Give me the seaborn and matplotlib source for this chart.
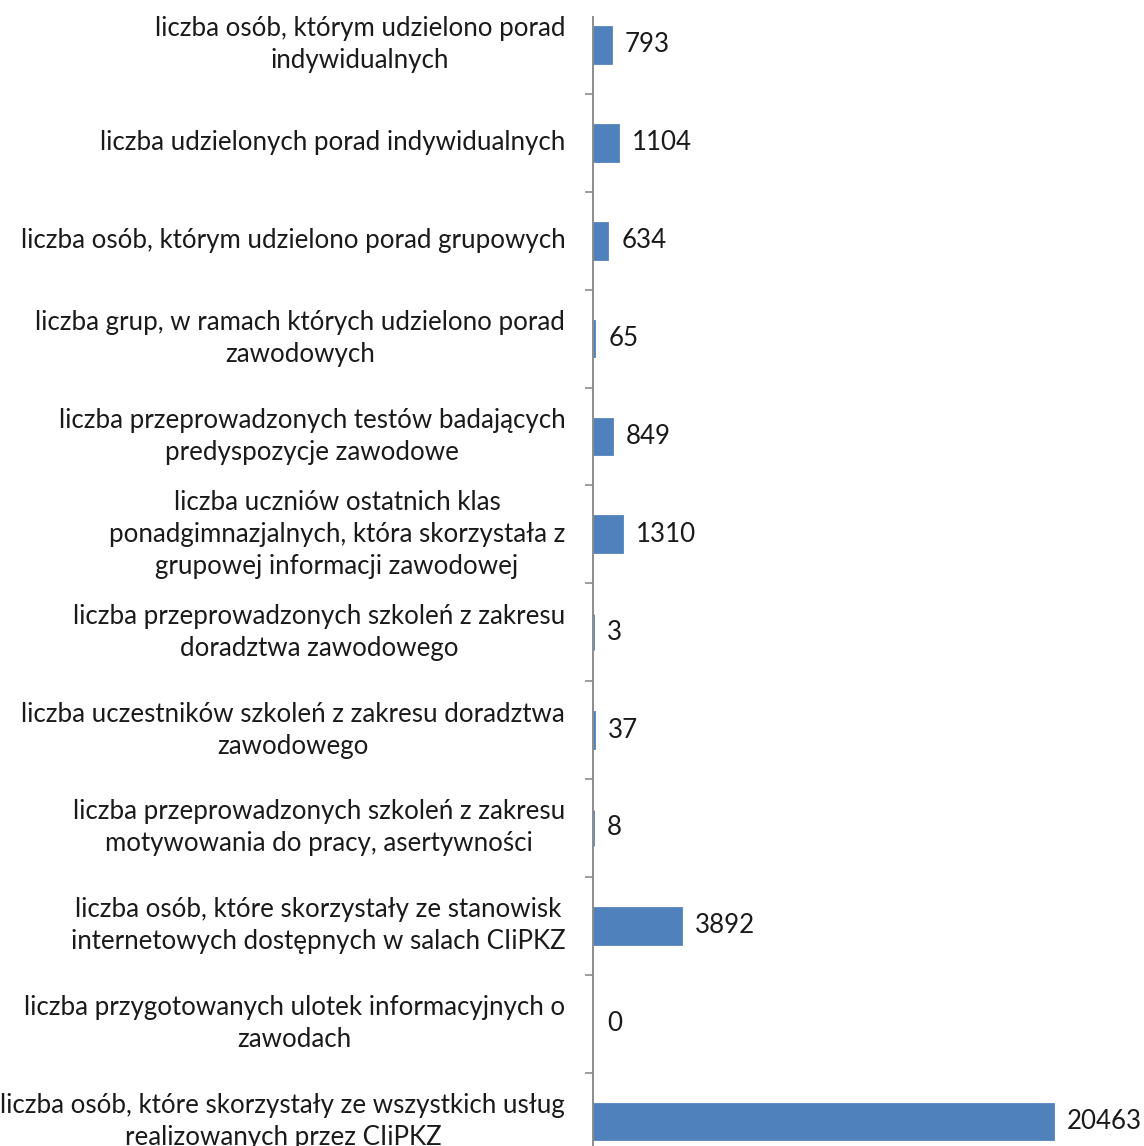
import matplotlib
matplotlib.use("Agg")
import matplotlib.pyplot as plt
import numpy as np
import pandas as pd
import seaborn as sns

# =========================================
# DATA
# =========================================

categories = [
    "liczba osób, którym udzielono porad\nindywidualnych",
    "liczba udzielonych porad indywidualnych",
    "liczba osób, którym udzielono porad grupowych",
    "liczba grup, w ramach których udzielono porad\nzawodowych",
    "liczba przeprowadzonych testów badających\npredyspozycje zawodowe",
    "liczba uczniów ostatnich klas\nponadgimnazjalnych, która skorzystała z\ngrupowej informacji zawodowej",
    "liczba przeprowadzonych szkoleń z zakresu\ndoradztwa zawodowego",
    "liczba uczestników szkoleń z zakresu doradztwa\nzawodowego",
    "liczba przeprowadzonych szkoleń z zakresu\nmotywowania do pracy, asertywności",
    "liczba osób, które skorzystały ze stanowisk\ninternetowych dostępnych w salach CIiPKZ",
    "liczba przygotowanych ulotek informacyjnych o\nzawodach",
    "liczba osób, które skorzystały ze wszystkich usług\nrealizowanych przez CIiPKZ",
]

values = [793, 1104, 634, 65, 849, 1310, 3, 37, 8, 3892, 0, 20463]

df = pd.DataFrame({"kategoria": categories, "liczba": values})

# =========================================
# STYLE
# =========================================

sns.set_style("white")
plt.rcParams["font.family"] = ["Lato", "DejaVu Sans"]

FONT_SIZE = 18.6
BAR_COLOR = "#4F81BD"
AXIS_COLOR = "#8C8C8C"

fig = plt.figure(figsize=(11.44, 11.46), dpi=100)

# plot area runs off the bottom of the picture like in the original
ax = fig.add_axes([593 / 1144, -0.0213, 1 - 593 / 1144, 1.00646])

sns.barplot(
    data=df,
    x="liczba",
    y="kategoria",
    orient="h",
    color=BAR_COLOR,
    saturation=1,
    width=0.365,
    edgecolor=BAR_COLOR,
    linewidth=2,
    ax=ax
)

# edge keeps the tiny bars visible, but a zero gets no bar at all
for patch, v in zip(ax.containers[0], values):
    if v == 0:
        patch.set_linewidth(0)

ax.set_xlim(0, 24500)
ax.set_ylim(11.5, -0.286)

ax.bar_label(
    ax.containers[0],
    labels=[str(v) for v in values],
    padding=10,
    fontsize=FONT_SIZE,
    color="#1a1a1a"
)

# category labels
ax.set_xlabel("")
ax.set_ylabel("")
ax.set_xticks([])
ax.tick_params(axis="y", which="major", length=0, pad=20,
               labelsize=FONT_SIZE, labelcolor="#1a1a1a")
for lbl in ax.get_yticklabels():
    lbl.set_multialignment("center")
    lbl.set_verticalalignment("center")
    lbl.set_linespacing(1.35)

# tick marks between categories
ax.set_yticks(np.arange(0.5, len(categories) - 1, 1), minor=True)
ax.tick_params(axis="y", which="minor", left=True, length=6, width=1.2,
               color=AXIS_COLOR, direction="out")

for side in ["top", "right", "bottom"]:
    ax.spines[side].set_visible(False)
ax.spines["left"].set_color(AXIS_COLOR)
ax.spines["left"].set_linewidth(1.4)

fig.savefig("out.png", dpi=100)
